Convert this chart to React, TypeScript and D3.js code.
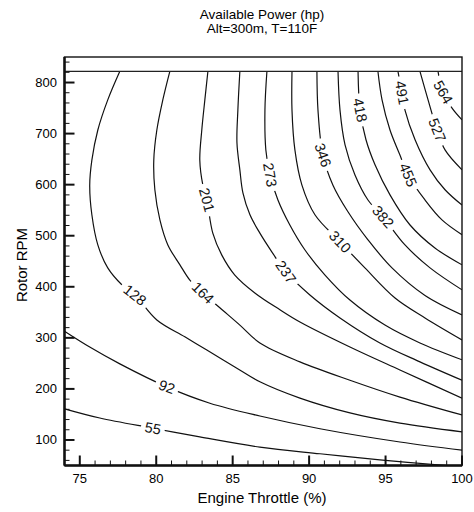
import React from "react";
import * as d3 from "d3";

// contour levels (hp) and the traced lines, [throttle %, rotor rpm]
const levels = [55, 92, 128, 164, 201, 237, 273, 310, 346, 382, 418, 455, 491, 527, 564];

const line55 = [[74, 161], [76.31, 143], [79.78, 123], [82.85, 106], [86.78, 86], [90.71, 73], [94.63, 61], [99, 50]];
const line92 = [[74, 313], [75.65, 282], [77.62, 249], [80.69, 204], [83.51, 172], [86.78, 147], [90.71, 122], [95.94, 96], [100, 80]];
const line128 = [[77.62, 822], [76.83, 766], [76.18, 707], [75.79, 648], [75.65, 599], [75.79, 541], [76.18, 482], [76.83, 437], [77.75, 404], [78.6, 384], [80.04, 335], [81.87, 302], [83.31, 276], [85.14, 243], [86.78, 214], [89.4, 182], [92.67, 153], [95.94, 133], [100, 116]];
const line164 = [[80.89, 822], [80.43, 766], [80.04, 707], [79.84, 648], [79.91, 590], [80.24, 531], [80.76, 482], [81.55, 443], [82.2, 413], [83.05, 388], [84.16, 359], [85.47, 325], [86.78, 290], [89.4, 253], [92.67, 217], [95.94, 184], [100, 149]];
const line201 = [[83.38, 822], [83.18, 766], [82.98, 707], [82.85, 648], [83.05, 599], [83.31, 570], [83.7, 505], [84.29, 462], [85.14, 423], [86.45, 388], [88.09, 355], [89.4, 331], [92.67, 282], [95.94, 237], [100, 182]];
const line237 = [[85.47, 822], [85.34, 746], [85.28, 682], [85.47, 629], [85.67, 584], [86.13, 541], [86.78, 505], [87.57, 468], [88.48, 429], [90.05, 384], [92.02, 339], [94.63, 290], [97.25, 253], [100, 217]];
const line273 = [[87.24, 822], [87.11, 746], [87.17, 668], [87.44, 619], [87.96, 570], [88.74, 521], [89.73, 472], [91.04, 423], [92.67, 374], [94.96, 325], [97.25, 290], [100, 257]];
const line310 = [[88.88, 822], [88.88, 746], [89.07, 668], [89.53, 599], [90.38, 541], [92.02, 488], [93.65, 437], [95.62, 378], [97.58, 339], [100, 296]];
const line346 = [[90.51, 822], [90.58, 746], [90.9, 658], [91.56, 599], [92.54, 547], [93.85, 492], [95.42, 437], [97.58, 383], [100, 345]];
const line382 = [[91.89, 822], [92.02, 746], [92.35, 678], [93.0, 619], [93.85, 570], [94.83, 537], [96.27, 482], [97.91, 437], [100, 394]];
const line418 = [[93.2, 822], [93.33, 746], [93.72, 688], [94.31, 639], [95.29, 580], [96.6, 521], [98.23, 476], [100, 443]];
const line455 = [[94.5, 822], [94.77, 766], [95.29, 707], [95.94, 658], [96.47, 619], [97.58, 570], [98.69, 531], [100, 502]];
const line491 = [[95.81, 822], [96.07, 780], [96.27, 746], [96.93, 688], [97.91, 629], [98.89, 590], [100, 560]];
const line527 = [[97.25, 822], [97.78, 766], [98.37, 707], [98.89, 668], [100, 629]];
const line564 = [[98.43, 822], [98.76, 781], [99.35, 750], [100, 727]];

const contourLines = [line55, line92, line128, line164, line201, line237, line273, line310, line346, line382, line418, line455, line491, line527, line564];

// where each level's label sits on its line
const labelSpots = [[79.78, 123], [80.69, 204], [78.6, 384], [83.05, 388], [83.31, 570], [88.48, 429], [87.44, 619], [92.02, 488], [90.9, 658], [94.83, 537], [93.33, 746], [96.47, 619], [96.07, 780], [98.37, 707], [98.76, 781]];

const xTicks = [75, 80, 85, 90, 95, 100];
const yTicks = [100, 200, 300, 400, 500, 600, 700, 800];
const dataTopRpm = 822;

const font = "'Liberation Sans', Arial, sans-serif";

const App = () => {
  const left = 64.5, right = 462, top = 57, bottom = 465.5;
  const x = d3.scaleLinear().domain([74, 100]).range([left, right]);
  const y = d3.scaleLinear().domain([50, 850]).range([bottom, top]);

  const line = d3
    .line<number[]>()
    .x((d) => x(d[0]))
    .y((d) => y(d[1]))
    .curve(d3.curveCatmullRom.alpha(0.5));

  const xMinor = d3.range(74, 100.01, 1).filter((v) => !xTicks.includes(v));
  const yMinor = d3.range(60, 850, 20).filter((v) => !yTicks.includes(v));

  // label angle from the nearest segment of its line
  const labelInfo = labelSpots.map((s, i) => {
    const pts = contourLines[i].map((p) => [x(p[0]), y(p[1])]);
    const px = x(s[0]), py = y(s[1]);
    let best = 0, bestD = Infinity;
    for (let k = 0; k < pts.length - 1; k++) {
      const mx = (pts[k][0] + pts[k + 1][0]) / 2;
      const my = (pts[k][1] + pts[k + 1][1]) / 2;
      const dd = (mx - px) ** 2 + (my - py) ** 2;
      if (dd < bestD) { bestD = dd; best = k; }
    }
    let a = (Math.atan2(pts[best + 1][1] - pts[best][1], pts[best + 1][0] - pts[best][0]) * 180) / Math.PI;
    if (a > 90) a -= 180;
    if (a < -90) a += 180;
    return { px, py, a, text: String(levels[i]) };
  });

  return (
    <svg width={474} height={512} style={{ position: "absolute", left: 0, top: 0, background: "#fff" }} fontFamily={font}>
      <defs>
        <clipPath id="plot">
          <rect x={left} y={top} width={right - left} height={bottom - top} />
        </clipPath>
      </defs>

      <text x={262} y={19} textAnchor="middle" fontSize={13.5}>Available Power (hp)</text>
      <text x={262} y={33} textAnchor="middle" fontSize={13.5}>Alt=300m, T=110F</text>

      <g clipPath="url(#plot)">
        {contourLines.map((pts, i) => (
          <path key={i} d={line(pts) || ""} fill="none" stroke="#111" strokeWidth={1.2} />
        ))}
        {labelInfo.map((l, i) => (
          <g key={i} transform={`translate(${l.px},${l.py}) rotate(${l.a})`}>
            <rect x={-l.text.length * 4.5 - 3} y={-6} width={l.text.length * 9 + 6} height={12} fill="#fff" />
            <text textAnchor="middle" dominantBaseline="central" fontSize={14.5} fill="#111">{l.text}</text>
          </g>
        ))}
      </g>

      <line x1={left} x2={right} y1={y(dataTopRpm)} y2={y(dataTopRpm)} stroke="#222" strokeWidth={1.3} />

      <rect x={left} y={top} width={right - left} height={bottom - top} fill="none" stroke="#111" strokeWidth={1.4} />
      <line x1={left} x2={left} y1={top} y2={bottom} stroke="#111" strokeWidth={2.5} />
      <line x1={left} x2={right} y1={bottom} y2={bottom} stroke="#111" strokeWidth={2.5} />

      {xTicks.map((t) => (
        <g key={t}>
          <line x1={x(t)} x2={x(t)} y1={bottom} y2={bottom - 10} stroke="#111" strokeWidth={2} />
          <text x={x(t)} y={483} textAnchor="middle" fontSize={13}>{t}</text>
        </g>
      ))}
      {xMinor.map((t) => (
        <line key={t} x1={x(t)} x2={x(t)} y1={bottom} y2={bottom - 5} stroke="#111" strokeWidth={1} />
      ))}
      {yTicks.map((t) => (
        <g key={t}>
          <line x1={left} x2={left + 10} y1={y(t)} y2={y(t)} stroke="#111" strokeWidth={2} />
          <text x={57} y={y(t)} textAnchor="end" dominantBaseline="central" fontSize={13}>{t}</text>
        </g>
      ))}
      {yMinor.map((t) => (
        <line key={t} x1={left} x2={left + 5} y1={y(t)} y2={y(t)} stroke="#111" strokeWidth={1} />
      ))}

      <text x={262} y={503} textAnchor="middle" fontSize={15}>Engine Throttle (%)</text>
      <text transform="translate(27,265) rotate(-90)" textAnchor="middle" fontSize={15}>Rotor RPM</text>
    </svg>
  );
};

export default App;
